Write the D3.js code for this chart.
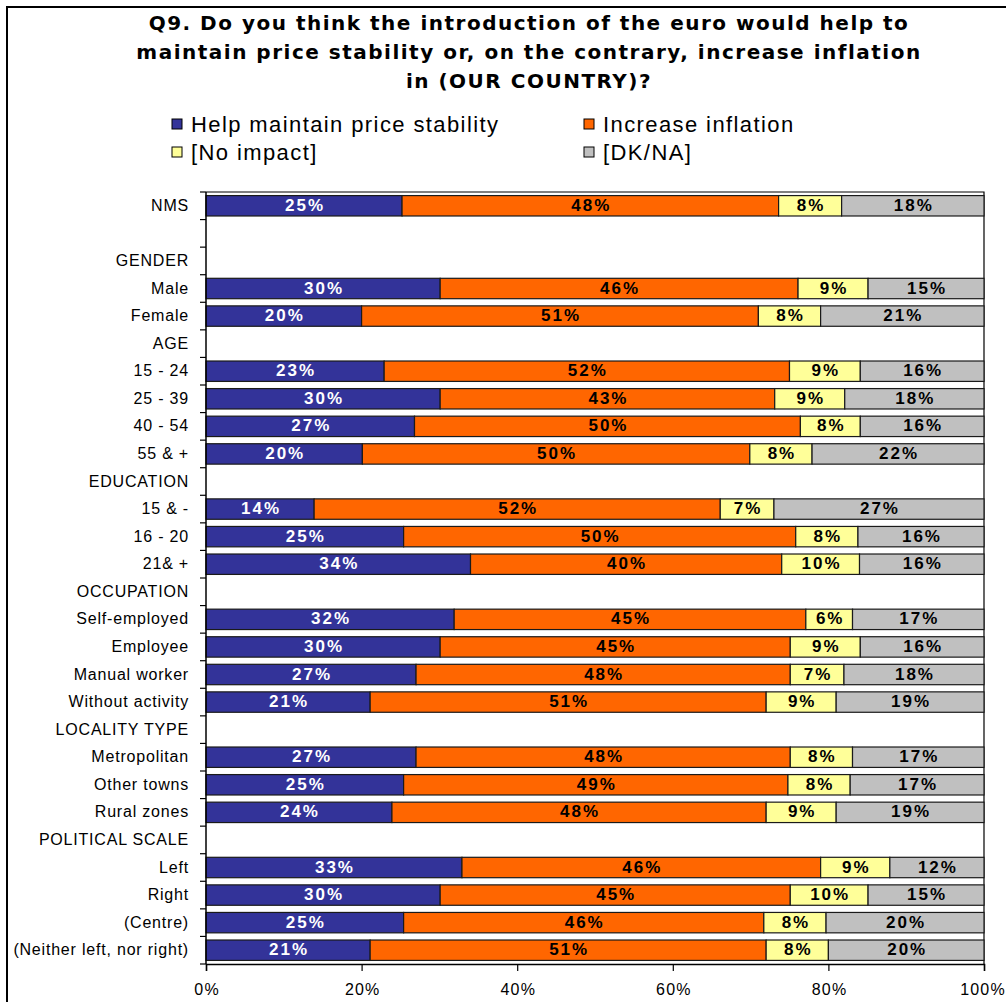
<!DOCTYPE html>
<html>
<head>
<meta charset="utf-8">
<script src="https://cdn.jsdelivr.net/npm/d3@7/dist/d3.min.js"></script>
<style>
  html, body { margin: 0; padding: 0; background: #fff; }
  svg { display: block; }
</style>
</head>
<body>
<svg id="chart" width="1006" height="1002"></svg>
<script>
// Row labels (group headers have no bars)
const categories = [
  "NMS", "", "GENDER", "Male", "Female", "AGE", "15 - 24", "25 - 39", "40 - 54", "55 & +",
  "EDUCATION", "15 & -", "16 - 20", "21& +", "OCCUPATION", "Self-employed", "Employee",
  "Manual worker", "Without activity", "LOCALITY TYPE", "Metropolitan", "Other towns",
  "Rural zones", "POLITICAL SCALE", "Left", "Right", "(Centre)", "(Neither left, nor right)"
];

// Shares per row, in percent
const helpStability = [25.2, null, null, 30.1, 20.0, null, 22.9, 30.1, 26.8, 20.1, null, 13.9, 25.4, 34.0, null, 31.9, 30.1, 27.0, 21.1, null, 27.0, 25.4, 23.9, null, 32.9, 30.1, 25.4, 21.1];
const increaseInflation = [48.4, null, null, 46.0, 51.0, null, 52.1, 43.0, 49.6, 49.8, null, 52.2, 50.4, 40.0, null, 45.2, 45.0, 48.1, 50.9, null, 48.1, 49.4, 48.1, null, 46.1, 45.0, 46.3, 50.9];
const noImpact = [8.1, null, null, 9.0, 8.0, null, 9.1, 9.0, 7.7, 8.0, null, 6.9, 8.0, 10.0, null, 6.0, 9.0, 6.9, 9.0, null, 8.0, 8.0, 9.0, null, 8.9, 10.0, 8.0, 8.0];
const dkNa = [18.3, null, null, 14.9, 21.0, null, 15.9, 17.9, 15.9, 22.1, null, 27.0, 16.2, 16.0, null, 16.9, 15.9, 18.0, 19.0, null, 16.9, 17.2, 19.0, null, 12.1, 14.9, 20.3, 20.0];

const seriesNames = ["Help maintain price stability", "Increase inflation", "[No impact]", "[DK/NA]"];
const seriesColors = ["#333399", "#FF6600", "#FFFF99", "#C0C0C0"];
const labelColors = ["#FFFFFF", "#000000", "#000000", "#000000"];
const xTicks = [0, 20, 40, 60, 80, 100];

const titleLines = [
  "Q9. Do you think the introduction of the euro would help to",
  "maintain price stability or, on the contrary, increase inflation",
  "in (OUR COUNTRY)?"
];

const seriesValues = [helpStability, increaseInflation, noImpact, dkNa];

const svg = d3.select("#chart");

// outer frame (left and top edges visible)
svg.append("rect")
  .attr("x", 7).attr("y", 7).attr("width", 1010).attr("height", 1010)
  .attr("fill", "none").attr("stroke", "#000").attr("stroke-width", 2);

// title
svg.append("g").selectAll("text")
  .data(titleLines)
  .join("text")
  .attr("x", 529)
  .attr("y", (d, i) => 30 + i * 29)
  .attr("text-anchor", "middle")
  .attr("font-family", "DejaVu Sans, Verdana, sans-serif")
  .attr("font-weight", "bold")
  .attr("font-size", 20)
  .attr("letter-spacing", 1.5)
  .attr("fill", "#000")
  .text(d => d);

// legend
const legendPos = [[172, 124], [584, 124], [172, 152], [584, 152]];
const legend = svg.append("g");
seriesNames.forEach((name, i) => {
  const [lx, ly] = legendPos[i];
  legend.append("rect")
    .attr("x", lx).attr("y", ly - 5).attr("width", 10).attr("height", 10)
    .attr("fill", seriesColors[i]).attr("stroke", "#000").attr("stroke-width", 1);
  legend.append("text")
    .attr("x", lx + 19).attr("y", ly + 8)
    .attr("font-family", "Liberation Sans, Arial, sans-serif")
    .attr("font-size", 22)
    .attr("letter-spacing", 1.4)
    .attr("fill", "#000")
    .text(name);
});

// plot scales
const plot = { left: 206, right: 984, top: 192, bottom: 964 };
const x = d3.scaleLinear().domain([0, 100]).range([plot.left, plot.right]);
const y = d3.scaleBand()
  .domain(d3.range(categories.length))
  .range([plot.top, plot.bottom])
  .paddingInner(0.26)
  .paddingOuter(0.13);

// plot area frame (top and right)
svg.append("path")
  .attr("d", `M${plot.left},${plot.top}H${plot.right}V${plot.bottom}`)
  .attr("fill", "none").attr("stroke", "#000").attr("stroke-width", 1.2);

// stacked bars
const rows = categories.map((c, i) => {
  if (seriesValues[0][i] == null) return null;
  let acc = 0;
  return seriesValues.map((vals, s) => {
    const v = vals[i];
    const seg = { row: i, s, v, x0: acc, x1: acc + v };
    acc += v;
    return seg;
  });
}).filter(r => r);
const segments = rows.flat();

const bars = svg.append("g");
bars.selectAll("rect")
  .data(segments)
  .join("rect")
  .attr("x", d => x(d.x0))
  .attr("y", d => y(d.row))
  .attr("width", d => x(d.x1) - x(d.x0))
  .attr("height", y.bandwidth())
  .attr("fill", d => seriesColors[d.s])
  .attr("stroke", "#1a1a1a")
  .attr("stroke-width", 1.2);

bars.selectAll("text")
  .data(segments)
  .join("text")
  .attr("x", d => (x(d.x0) + x(d.x1)) / 2 + 1)
  .attr("y", d => y(d.row) + y.bandwidth() / 2 + 5)
  .attr("text-anchor", "middle")
  .attr("font-family", "Liberation Sans, Arial, sans-serif")
  .attr("font-weight", "bold")
  .attr("font-size", 17)
  .attr("letter-spacing", 2)
  .attr("fill", d => labelColors[d.s])
  .text(d => Math.round(d.v) + "%");

// y axis: labels at band centers, ticks at band boundaries
const yAxis = d3.axisLeft(y).tickSize(0).tickPadding(17).tickFormat(i => categories[i]);
const gy = svg.append("g").attr("transform", `translate(${plot.left},0)`).call(yAxis);
gy.select(".domain").remove();
gy.selectAll("text")
  .attr("font-family", "Liberation Sans, Arial, sans-serif")
  .attr("font-size", 16)
  .attr("letter-spacing", 0.8)
  .attr("fill", "#000");

const step = y.step();
svg.append("g").selectAll("line")
  .data(d3.range(categories.length + 1))
  .join("line")
  .attr("x1", plot.left - 6).attr("x2", plot.left)
  .attr("y1", i => plot.top + i * step)
  .attr("y2", i => plot.top + i * step)
  .attr("stroke", "#000").attr("stroke-width", 1.2);

svg.append("line")
  .attr("x1", plot.left).attr("x2", plot.left)
  .attr("y1", plot.top).attr("y2", plot.bottom)
  .attr("stroke", "#000").attr("stroke-width", 1.5);

// x axis
const xAxis = d3.axisBottom(x).tickValues(xTicks).tickSize(7).tickPadding(13).tickFormat(d => d + "%");
const gx = svg.append("g").attr("transform", `translate(0,${plot.bottom})`).call(xAxis);
gx.select(".domain").attr("stroke", "#000").attr("stroke-width", 1.5);
gx.selectAll(".tick line").attr("stroke", "#000").attr("stroke-width", 1.2);
gx.selectAll("text")
  .attr("font-family", "Liberation Sans, Arial, sans-serif")
  .attr("font-size", 16)
  .attr("letter-spacing", 1.2)
  .attr("dx", d => d === 100 ? -1.5 : 0.6)
  .attr("fill", "#000");
</script>
</body>
</html>
